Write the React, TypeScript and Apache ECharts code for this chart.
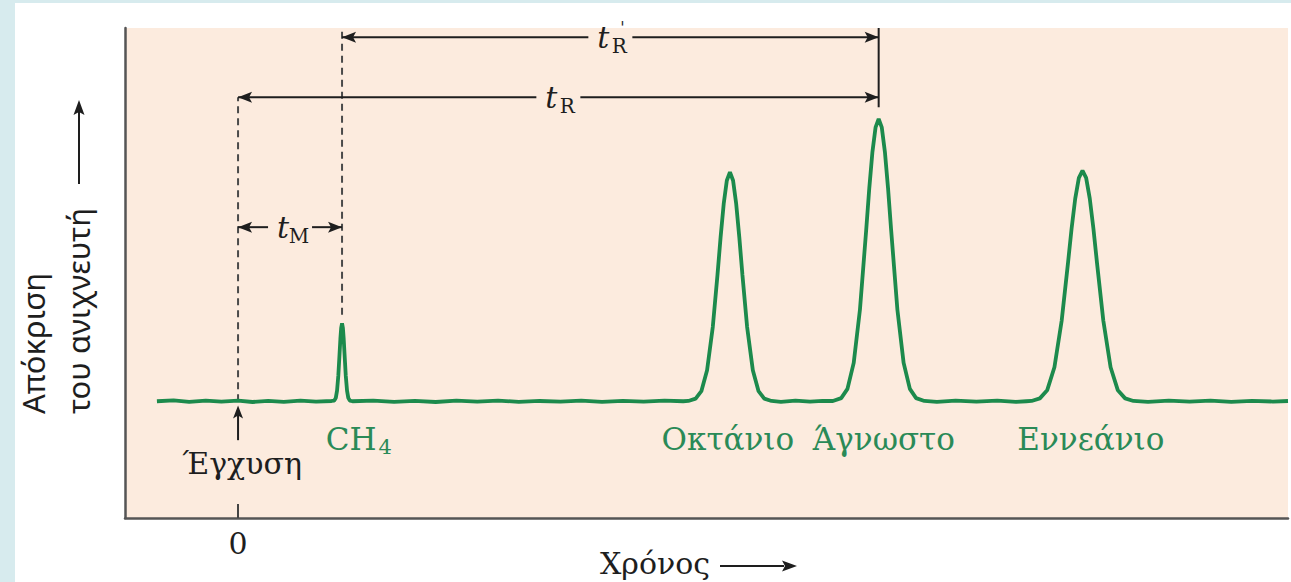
import { useEffect, useRef } from "react";
import * as echarts from "echarts";

// Time is expressed in units of the methane (dead) time; response in detector units.
const timeMin = -1.087;
const timeMax = 10.096;
const responseMin = -40.5;
const responseMax = 129.5;

const injectionTime = 0;
const methaneTime = 1.0;
const unknownTime = 6.16;

const xTickValues = [0];

// Detector trace, piece by piece
const baselineStart: [number, number][] = [
  [-0.78, 0], [-0.62, 0.3], [-0.47, -0.2], [-0.31, 0.25], [-0.16, -0.15], [0, 0.2],
  [0.14, -0.25], [0.29, 0.15], [0.44, -0.2], [0.6, 0.25], [0.75, -0.1], [0.9, 0.1],
];
const methanePeak: [number, number][] = [
  [0.925, 0.2], [0.94, 1.2], [0.952, 3.7], [0.964, 8.8], [0.976, 16.4], [0.984, 21.6],
  [0.992, 25.5], [1.0, 27], [1.008, 25.5], [1.016, 21.6], [1.024, 16.4], [1.036, 8.8],
  [1.048, 3.7], [1.06, 1.2], [1.075, 0.2],
];
const baselineMid1: [number, number][] = [
  [1.1, 0], [1.3, 0.25], [1.5, -0.2], [1.7, 0.15], [1.9, -0.25], [2.1, 0.2], [2.3, -0.1],
  [2.5, 0.25], [2.7, -0.2], [2.9, 0.1], [3.1, -0.15], [3.3, 0.25], [3.5, -0.2], [3.7, 0.15],
  [3.9, -0.1], [4.1, 0.2], [4.28, 0],
];
const octanePeak: [number, number][] = [
  [4.33, 0.1], [4.4, 0.9], [4.455, 3.5], [4.51, 10.8], [4.565, 25.8], [4.61, 43.8],
  [4.64, 56.9], [4.67, 68.5], [4.7, 76.6], [4.73, 79.5], [4.76, 76.6], [4.79, 68.5],
  [4.82, 56.9], [4.85, 43.8], [4.895, 25.8], [4.95, 10.8], [5.005, 3.5], [5.06, 0.9],
  [5.13, 0.1],
];
const baselineMid2: [number, number][] = [
  [5.22, -0.2], [5.36, 0.2], [5.5, -0.15], [5.62, 0.1],
];
const unknownPeak: [number, number][] = [
  [5.72, 0.1], [5.8, 1.1], [5.86, 4.3], [5.92, 13.3], [5.98, 31.8], [6.04, 59.4],
  [6.07, 74.0], [6.1, 86.5], [6.13, 95.0], [6.16, 98], [6.19, 95.0], [6.22, 86.5],
  [6.25, 74.0], [6.28, 59.4], [6.34, 31.8], [6.4, 13.3], [6.46, 4.3], [6.52, 1.1],
  [6.6, 0.1],
];
const baselineMid3: [number, number][] = [
  [6.72, -0.2], [6.9, 0.2], [7.1, -0.15], [7.3, 0.2], [7.48, -0.2], [7.58, 0],
];
const nonanePeak: [number, number][] = [
  [7.63, 0.1], [7.71, 1.0], [7.78, 3.8], [7.85, 11.8], [7.92, 28.0], [7.98, 47.8],
  [8.015, 59.9], [8.05, 70.3], [8.085, 77.5], [8.12, 80], [8.155, 77.5], [8.19, 70.3],
  [8.225, 59.9], [8.26, 47.8], [8.32, 28.0], [8.39, 11.8], [8.46, 3.8], [8.53, 1.0],
  [8.61, 0.1],
];
const baselineEnd: [number, number][] = [
  [8.75, -0.2], [8.95, 0.2], [9.15, -0.15], [9.35, 0.25], [9.55, -0.2], [9.75, 0.15],
  [9.95, -0.1], [10.096, 0.1],
];

const trace = [
  ...baselineStart, ...methanePeak, ...baselineMid1, ...octanePeak, ...baselineMid2,
  ...unknownPeak, ...baselineMid3, ...nonanePeak, ...baselineEnd,
];

// Peak names, placed under the trace at their label time
const peakLabelNames = ["CH", "Οκτάνιο", "Άγνωστο", "Εννεάνιο"];
const peakLabelTimes = [1.1, 4.71, 6.21, 8.2];
const peakLabelLevel = -13;

// Heights of the measurement arrows
const tRPrimeLevel = 126.3;
const tRLevel = 105.5;
const tMLevel = 60.4;
const methaneMarkerBottom = 30;
const unknownMarkerBottom = 102;
const injectionArrowFrom = -13.5;
const injectionArrowTo = -1.5;
const injectionLabelLevel = -21.5;

const GREEN = "#1c8a4c";
const LABEL_GREEN = "#2a8a57";
const INK = "#1e1e1e";
const DASH = "#4a4a4a";
const PEACH = "#fcebde";
const SERIF = "'DejaVu Serif', 'Liberation Serif', serif";
const SANS = "'Noto Sans', 'Open Sans', sans-serif";

type Pt = number[];

function arrowHead(tip: Pt, dir: Pt, color: string, len = 14, half = 5.5, notch = 3) {
  const [dx, dy] = dir;
  const nx = -dy;
  const ny = dx;
  const bx = tip[0] - dx * len;
  const by = tip[1] - dy * len;
  return {
    type: "polygon",
    silent: true,
    shape: {
      points: [
        [tip[0], tip[1]],
        [bx + nx * half, by + ny * half],
        [tip[0] - dx * (len - notch), tip[1] - dy * (len - notch)],
        [bx - nx * half, by - ny * half],
      ],
    },
    style: { fill: color },
  };
}

function line(a: Pt, b: Pt, color: string, width: number, dash?: number[]) {
  return {
    type: "line",
    silent: true,
    shape: { x1: a[0], y1: a[1], x2: b[0], y2: b[1] },
    style: { stroke: color, lineWidth: width, lineDash: dash },
  };
}

function text(x: number, y: number, str: string, opts: any) {
  return {
    type: "text",
    silent: true,
    x,
    y,
    rotation: opts.rotation || 0,
    style: {
      text: str,
      fontSize: opts.fontSize,
      fontFamily: opts.fontFamily || SERIF,
      fontStyle: opts.fontStyle || "normal",
      fill: opts.fill || INK,
      align: opts.align || "center",
      verticalAlign: opts.verticalAlign || "middle",
    },
  };
}

// Horizontal double-headed arrow with a gap in the middle for its symbol
function measureArrow(x1: number, x2: number, y: number, sub: string, prime: boolean) {
  const cx = (x1 + x2) / 2;
  const gap = 22;
  const els: any[] = [
    line([x1, y], [cx - gap, y], INK, 2),
    line([cx + gap, y], [x2, y], INK, 2),
    arrowHead([x1, y], [-1, 0], INK),
    arrowHead([x2, y], [1, 0], INK),
    text(cx - 7, y, "t", { fontSize: 30, fontStyle: "italic" }),
    text(cx + 9, y + 9, sub, { fontSize: 20 }),
  ];
  if (prime) els.push(text(cx + 12, y - 10, "'", { fontSize: 16 }));
  return els;
}

export default function App() {
  const ref = useRef<HTMLDivElement>(null);

  useEffect(() => {
    if (!ref.current) return;
    const chart = echarts.init(ref.current, undefined, { renderer: "svg" });

    chart.setOption({
      animation: false,
      backgroundColor: "#ffffff",
      grid: {
        left: 125,
        right: 3,
        top: 28,
        bottom: 64,
        show: true,
        backgroundColor: PEACH,
        borderWidth: 0,
      },
      xAxis: {
        type: "value",
        min: timeMin,
        max: timeMax,
        axisLine: { show: true, onZero: false, lineStyle: { color: "#555", width: 2.5 } },
        axisTick: {
          show: true,
          inside: true,
          length: 14,
          customValues: xTickValues,
          lineStyle: { color: "#444", width: 2 },
        },
        axisLabel: {
          customValues: xTickValues,
          fontSize: 30,
          fontFamily: SERIF,
          color: INK,
          margin: 10,
        },
        splitLine: { show: false },
      },
      yAxis: {
        type: "value",
        min: responseMin,
        max: responseMax,
        axisLine: { show: true, onZero: false, lineStyle: { color: "#555", width: 2.5 } },
        axisTick: { show: false },
        axisLabel: { show: false },
        splitLine: { show: false },
      },
      series: [
        {
          type: "line",
          data: trace,
          showSymbol: false,
          smooth: false,
          lineStyle: { color: GREEN, width: 3.8 },
          z: 3,
        },
      ],
    });

    const p = (t: number, v: number) =>
      chart.convertToPixel({ gridIndex: 0 }, [t, v]) as number[];

    const top = p(0, responseMax)[1];
    const inj = p(injectionTime, 0);
    const met = p(methaneTime, 0);
    const unk = p(unknownTime, 0);

    const els: any[] = [];

    // page frame strips
    els.push({ type: "rect", silent: true, shape: { x: 0, y: 0, width: 15, height: 582 }, style: { fill: "#d7ebee" } });
    els.push({ type: "rect", silent: true, shape: { x: 0, y: 0, width: 1291, height: 3 }, style: { fill: "#d7ebee" } });

    // marker lines
    els.push(line(p(injectionTime, 0), p(injectionTime, tRLevel), DASH, 2, [7, 5]));
    els.push(line(p(methaneTime, methaneMarkerBottom), [met[0], top], DASH, 2, [7, 5]));
    els.push(line(p(unknownTime, unknownMarkerBottom), [unk[0], top], INK, 2));

    // measurement arrows
    els.push(...measureArrow(met[0], unk[0], p(0, tRPrimeLevel)[1], "R", true));
    els.push(...measureArrow(inj[0], unk[0], p(0, tRLevel)[1], "R", false));
    els.push(...measureArrow(inj[0], met[0], p(0, tMLevel)[1], "M", false));

    // injection arrow and label
    const a0 = p(injectionTime, injectionArrowFrom);
    const a1 = p(injectionTime, injectionArrowTo);
    els.push(line(a0, [a1[0], a1[1] + 8], INK, 2));
    els.push(arrowHead(a1, [0, -1], INK, 13, 5, 3));
    const il = p(injectionTime, injectionLabelLevel);
    els.push(text(il[0] + 4, il[1], "Έγχυση", { fontSize: 30 }));

    // peak names
    peakLabelNames.forEach((name, i) => {
      const q = p(peakLabelTimes[i], peakLabelLevel);
      if (name === "CH") {
        els.push(text(q[0] + 24, q[1], name, { fontSize: 31, fill: LABEL_GREEN, align: "right" }));
        els.push(text(q[0] + 26, q[1] + 8, "4", { fontSize: 21, fill: LABEL_GREEN, align: "left" }));
      } else {
        els.push(text(q[0], q[1], name, { fontSize: 31, fill: LABEL_GREEN }));
      }
    });

    // axis titles
    els.push(text(33, 414, "Απόκριση", { fontSize: 31, fontFamily: SANS, align: "left", rotation: Math.PI / 2 }));
    els.push(text(78, 414, "του ανιχνευτή", { fontSize: 31, fontFamily: SANS, align: "left", rotation: Math.PI / 2 }));
    els.push(line([79, 184], [79, 112], INK, 2));
    els.push(arrowHead([79, 100], [0, -1], INK, 15, 5.5, 3));

    els.push(text(600, 563, "Χρόνος", { fontSize: 30, fontFamily: SERIF, align: "left" }));
    els.push(line([720, 566], [784, 566], INK, 2));
    els.push(arrowHead([797, 566], [1, 0], INK, 15, 5.5, 3));

    chart.setOption({ graphic: { elements: els } });

    return () => chart.dispose();
  }, []);

  return (
    <div
      ref={ref}
      style={{ position: "fixed", left: 0, top: 0, width: 1291, height: 582 }}
    />
  );
}
